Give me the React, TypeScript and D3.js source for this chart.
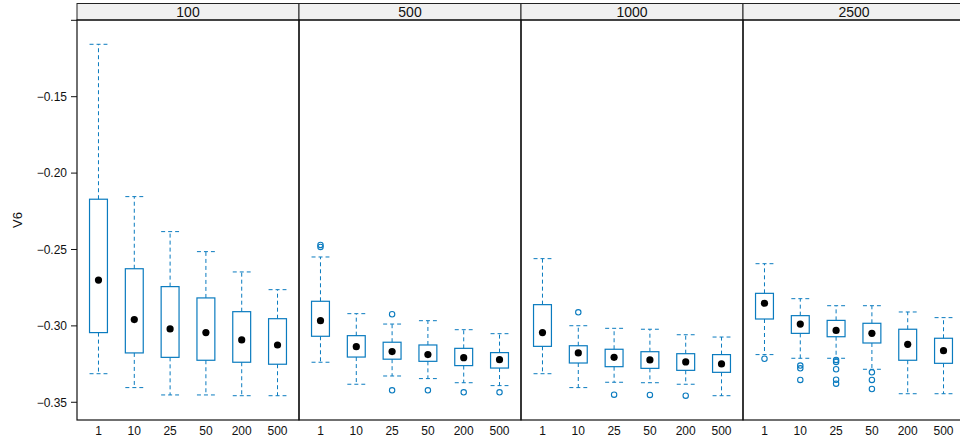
import React, { useEffect, useRef } from "react";
import * as d3 from "d3";

// Panel (conditioning) levels and x categories
const panels = ["100", "500", "1000", "2500"];
const categories = ["1", "10", "25", "50", "200", "500"];

// Box statistics per panel, one value per category
const whiskerHigh = [
  [-0.1157, -0.2154, -0.2383, -0.2514, -0.2647, -0.2763],
  [-0.2549, -0.2920, -0.2988, -0.2966, -0.3025, -0.3051],
  [-0.2560, -0.2999, -0.3016, -0.3022, -0.3058, -0.3073],
  [-0.2593, -0.2822, -0.2868, -0.2868, -0.2909, -0.2946],
];
const upperHinge = [
  [-0.2171, -0.2626, -0.2743, -0.2817, -0.2907, -0.2953],
  [-0.2839, -0.3064, -0.3107, -0.3125, -0.3147, -0.3175],
  [-0.2861, -0.3130, -0.3153, -0.3169, -0.3182, -0.3188],
  [-0.2787, -0.2933, -0.2964, -0.2983, -0.3022, -0.3081],
];
const medians = [
  [-0.2700, -0.2959, -0.3020, -0.3044, -0.3092, -0.3125],
  [-0.2966, -0.3136, -0.3168, -0.3188, -0.3208, -0.3221],
  [-0.3044, -0.3177, -0.3206, -0.3223, -0.3236, -0.3249],
  [-0.2852, -0.2988, -0.3030, -0.3049, -0.3121, -0.3162],
];
const lowerHinge = [
  [-0.3044, -0.3177, -0.3206, -0.3225, -0.3238, -0.3251],
  [-0.3068, -0.3204, -0.3218, -0.3232, -0.3260, -0.3276],
  [-0.3134, -0.3243, -0.3267, -0.3278, -0.3291, -0.3304],
  [-0.2955, -0.3049, -0.3071, -0.3112, -0.3225, -0.3245],
];
const whiskerLow = [
  [-0.3313, -0.3404, -0.3452, -0.3452, -0.3457, -0.3457],
  [-0.3238, -0.3382, -0.3328, -0.3345, -0.3372, -0.3391],
  [-0.3313, -0.3404, -0.3369, -0.3372, -0.3382, -0.3457],
  [-0.3188, -0.3212, -0.3212, -0.3284, -0.3444, -0.3444],
];
const outliers = [
  [[], [], [], [], [], []],
  [[-0.2470, -0.2483], [], [-0.2924, -0.3422], [-0.3422], [-0.3435], [-0.3435]],
  [[], [-0.2911], [-0.3450], [-0.3452], [-0.3457], []],
  [
    [-0.3215],
    [-0.3260, -0.3278, -0.3354],
    [-0.3223, -0.3236, -0.3284, -0.3352, -0.3378],
    [-0.3304, -0.3354, -0.3413],
    [],
    [],
  ],
];
const yTicks = [-0.35, -0.3, -0.25, -0.2, -0.15, -0.1];
const yTickLabels = ["\u22120.35", "\u22120.30", "\u22120.25", "\u22120.20", "\u22120.15", ""];

const W = 960;
const H = 438;
const left = 77;
const panelW = 222;
const stripTop = 3.5;
const top = 20;
const bottom = 420;
const blue = "#0a7bbf";
const font = "'Liberation Sans', Arial, sans-serif";

export default function App() {
  const ref = useRef<SVGSVGElement>(null);

  useEffect(() => {
    const svg = d3.select(ref.current);
    svg.selectAll("*").remove();

    const y = d3.scaleLinear().domain([-0.3616, -0.0998]).range([bottom, top]);

    // strip backgrounds and labels
    panels.forEach((p, i) => {
      const x0 = left + i * panelW;
      svg
        .append("rect")
        .attr("x", x0)
        .attr("y", stripTop)
        .attr("width", panelW)
        .attr("height", top - stripTop)
        .attr("fill", "#f0f0f0")
        .attr("stroke", "#222")
        .attr("stroke-width", 1);
      svg
        .append("text")
        .attr("x", x0 + panelW / 2)
        .attr("y", top - 3)
        .attr("text-anchor", "middle")
        .attr("font-family", font)
        .attr("font-size", 14)
        .attr("fill", "#111")
        .text(p);
    });

    panels.forEach((p, i) => {
      const x0 = left + i * panelW;
      const x = d3.scalePoint<string>().domain(categories).range([x0, x0 + panelW]).padding(0.6);
      const bw = x.step() * 0.5;
      const g = svg.append("g");

      categories.forEach((c, j) => {
        const cx = x(c)!;
        // whiskers
        const dash = "4,3";
        g.append("line")
          .attr("x1", cx).attr("x2", cx)
          .attr("y1", y(upperHinge[i][j])).attr("y2", y(whiskerHigh[i][j]))
          .attr("stroke", blue).attr("stroke-dasharray", dash);
        g.append("line")
          .attr("x1", cx).attr("x2", cx)
          .attr("y1", y(lowerHinge[i][j])).attr("y2", y(whiskerLow[i][j]))
          .attr("stroke", blue).attr("stroke-dasharray", dash);
        [whiskerHigh[i][j], whiskerLow[i][j]].forEach((v) => {
          g.append("line")
            .attr("x1", cx - bw / 2).attr("x2", cx + bw / 2)
            .attr("y1", y(v)).attr("y2", y(v))
            .attr("stroke", blue).attr("stroke-dasharray", dash);
        });
        // box
        g.append("rect")
          .attr("x", cx - bw / 2)
          .attr("y", y(upperHinge[i][j]))
          .attr("width", bw)
          .attr("height", y(lowerHinge[i][j]) - y(upperHinge[i][j]))
          .attr("fill", "none")
          .attr("stroke", blue)
          .attr("stroke-width", 1.2);
        // outliers
        outliers[i][j].forEach((v) => {
          g.append("circle")
            .attr("cx", cx).attr("cy", y(v)).attr("r", 2.7)
            .attr("fill", "none").attr("stroke", blue).attr("stroke-width", 1.1);
        });
        // median dot
        g.append("circle")
          .attr("cx", cx).attr("cy", y(medians[i][j])).attr("r", 3.6)
          .attr("fill", "#000");
        // x tick label
        svg.append("text")
          .attr("x", cx).attr("y", 435)
          .attr("text-anchor", "middle")
          .attr("font-family", font)
          .attr("font-size", 12)
          .attr("fill", "#111")
          .text(c);
      });

      // panel border
      svg.append("rect")
        .attr("x", x0).attr("y", top)
        .attr("width", panelW).attr("height", bottom - top)
        .attr("fill", "none").attr("stroke", "#111").attr("stroke-width", 1.2);
    });

    // y axis ticks and labels
    yTicks.forEach((t, k) => {
      svg.append("line")
        .attr("x1", left - 6).attr("x2", left)
        .attr("y1", y(t)).attr("y2", y(t))
        .attr("stroke", "#111");
      svg.append("text")
        .attr("x", left - 10).attr("y", y(t) + 4.3)
        .attr("text-anchor", "end")
        .attr("font-family", font)
        .attr("font-size", 12)
        .attr("fill", "#111")
        .text(yTickLabels[k]);
    });

    svg.append("text")
      .attr("transform", `translate(22,${(top + bottom) / 2}) rotate(-90)`)
      .attr("text-anchor", "middle")
      .attr("font-family", font)
      .attr("font-size", 13)
      .attr("fill", "#111")
      .text("V6");
  }, []);

  return (
    <svg
      ref={ref}
      width={W}
      height={H}
      style={{ position: "absolute", left: 0, top: 0, background: "#fff" }}
    />
  );
}
